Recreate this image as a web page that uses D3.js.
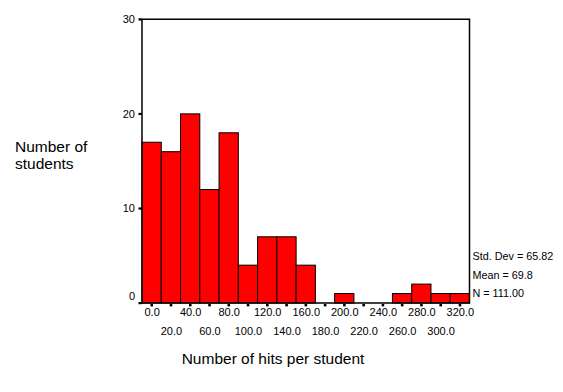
<!DOCTYPE html>
<html>
<head>
<meta charset="utf-8">
<script src="https://cdn.jsdelivr.net/npm/d3@7"></script>
<style>
  body { margin: 0; background: #fff; }
  svg { display: block; font-family: Arial, "Liberation Sans", sans-serif; }
</style>
</head>
<body>
<div id="chart"></div>
<script>
// Histogram bins (centre of each bin) and counts
var binCentres = [0, 20, 40, 60, 80, 100, 120, 140, 160, 180, 200, 220, 240, 260, 280, 300, 320];
var counts = [17, 16, 20, 12, 18, 4, 7, 7, 4, 0, 1, 0, 0, 1, 2, 1, 1];
var yTicks = [0, 10, 20, 30];
var statLines = ["Std. Dev = 65.82", "Mean = 69.8", "N = 111.00"];
var binWidth = 20;

var width = 563,
  height = 392;

var svg = d3.select('#chart')
  .append('svg')
  .attr('width', width)
  .attr('height', height);

// scales
var x = d3.scaleLinear().domain([-10, 330]).range([142, 469.5]);
var y = d3.scaleLinear().domain([0, 30]).range([303, 19.3]);

// bars (empty bins are not drawn)
svg.selectAll('rect.bar')
  .data(binCentres.filter(function(d, i) { return counts[i] > 0; }))
  .enter()
  .append('rect')
  .attr('class', 'bar')
  .attr('x', function(d) { return x(d - binWidth / 2); })
  .attr('width', function(d) { return x(d + binWidth / 2) - x(d - binWidth / 2); })
  .attr('y', function(d) { return y(counts[binCentres.indexOf(d)]); })
  .attr('height', function(d) { return y(0) - y(counts[binCentres.indexOf(d)]); })
  .attr('fill', '#ff0000')
  .attr('stroke', '#000')
  .attr('stroke-width', 1);

// frame: left, top, right, bottom
var x0 = x(-10), x1 = x(330), yTop = y(30), yBot = y(0);
svg.append('path')
  .attr('d', 'M' + x0 + ',' + yBot + 'V' + yTop + 'H' + x1 + 'V' + yBot + 'H' + x0)
  .attr('fill', 'none')
  .attr('stroke', '#000')
  .attr('stroke-width', 1.5);

// y ticks and labels
var yg = svg.append('g');
yg.selectAll('rect')
  .data(yTicks)
  .enter()
  .append('rect')
  .attr('x', x0 - 3.5)
  .attr('y', function(d) { return y(d) - 1; })
  .attr('width', 3.5)
  .attr('height', 2.2)
  .attr('fill', '#000');
yg.selectAll('text')
  .data(yTicks)
  .enter()
  .append('text')
  .attr('x', 135)
  .attr('y', function(d) { return d === 0 ? y(d) - 6.5 : y(d); })
  .attr('dy', '0.35em')
  .attr('text-anchor', 'end')
  .style('font-size', '11px')
  .text(function(d) { return d; });

// x ticks (dots under each bin centre) and staggered labels
var xg = svg.append('g');
xg.selectAll('rect')
  .data(binCentres)
  .enter()
  .append('rect')
  .attr('x', function(d) { return x(d) - 1.2; })
  .attr('y', yBot + 1)
  .attr('width', 2.6)
  .attr('height', 2.4)
  .attr('fill', '#000');
xg.selectAll('text')
  .data(binCentres)
  .enter()
  .append('text')
  .attr('x', function(d) { return x(d) + 0.5; })
  .attr('y', function(d, i) { return i % 2 === 0 ? 316 : 334.5; })
  .attr('text-anchor', 'middle')
  .style('font-size', '11px')
  .text(function(d) { return d3.format('.1f')(d); });

// axis titles
svg.append('text')
  .attr('x', 273)
  .attr('y', 363.5)
  .attr('text-anchor', 'middle')
  .style('font-size', '15.5px')
  .text('Number of hits per student');

var yt = svg.append('text')
  .attr('x', 15)
  .attr('y', 151.5)
  .style('font-size', '15.5px');
yt.append('tspan').attr('x', 15).text('Number of');
yt.append('tspan').attr('x', 15).attr('dy', 17).text('students');

// summary statistics
svg.selectAll('text.stat')
  .data(statLines)
  .enter()
  .append('text')
  .attr('class', 'stat')
  .attr('x', 472.5)
  .attr('y', function(d, i) { return 260 + i * 18.6; })
  .style('font-size', '10.8px')
  .text(function(d) { return d; });
</script>
</body>
</html>
